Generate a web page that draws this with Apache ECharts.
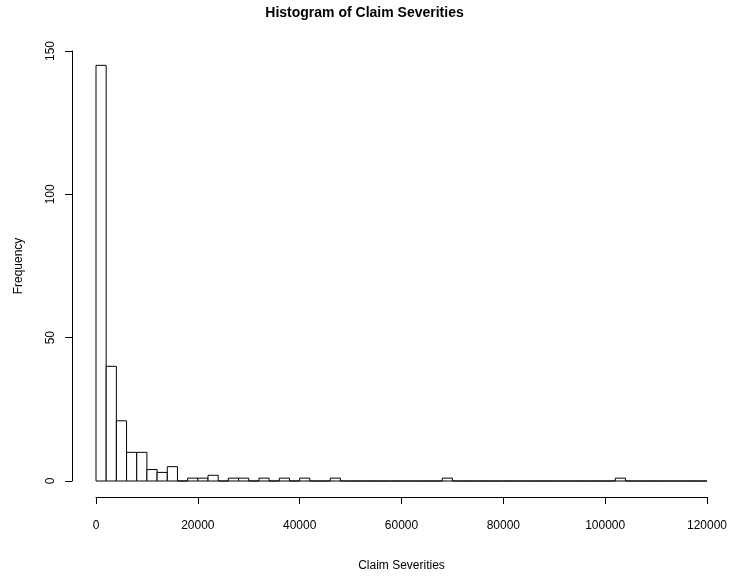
<!DOCTYPE html>
<html>
<head>
<meta charset="utf-8">
<script src="https://cdn.jsdelivr.net/npm/echarts@6/dist/echarts.min.js"></script>
<style>
  html, body { margin: 0; padding: 0; background: #fff; }
  #chart { width: 729px; height: 578px; }
</style>
</head>
<body>
<div id="chart"></div>
<script>
// histogram bins: width 2000, from 0 to 120000
const binWidth = 2000
const binStart = 0
const counts = [
  145, 40, 21, 10, 10, 4, 3, 5, 0, 1,
  1, 2, 0, 1, 1, 0, 1, 0, 1, 0,
  1, 0, 0, 1, 0, 0, 0, 0, 0, 0,
  0, 0, 0, 0, 1, 0, 0, 0, 0, 0,
  0, 0, 0, 0, 0, 0, 0, 0, 0, 0,
  0, 1, 0, 0, 0, 0, 0, 0, 0, 0
]
const xTicks = [0, 20000, 40000, 60000, 80000, 100000, 120000]
const yTicks = [0, 50, 100, 150]

const bars = counts.map((c, i) => [binStart + i * binWidth, binStart + (i + 1) * binWidth, c])

const font = 'Liberation Sans, Arial, sans-serif'
const chart = echarts.init(document.getElementById('chart'))

chart.setOption({
  animation: false,
  backgroundColor: '#fff',
  title: {
    text: 'Histogram of Claim Severities',
    left: 'center',
    top: 1,
    textStyle: { fontFamily: font, fontSize: 14, fontWeight: 'bold', color: '#000' }
  },
  grid: { left: 96, right: 22, top: 51, bottom: 97, outerBoundsMode: 'none' },
  xAxis: {
    type: 'value',
    min: xTicks[0],
    max: xTicks[xTicks.length - 1],
    interval: 20000,
    offset: 16,
    name: 'Claim Severities',
    nameLocation: 'middle',
    nameGap: 63,
    nameTextStyle: { fontFamily: font, fontSize: 12, color: '#000' },
    axisLine: { show: true, onZero: false, lineStyle: { color: '#000', width: 1 } },
    axisTick: { show: true, length: 7, lineStyle: { color: '#000' } },
    axisLabel: { fontFamily: font, fontSize: 12, color: '#000', margin: 23, formatter: v => String(v) },
    splitLine: { show: false }
  },
  yAxis: {
    type: 'value',
    min: yTicks[0],
    max: yTicks[yTicks.length - 1],
    interval: 50,
    offset: 24,
    name: 'Frequency',
    nameLocation: 'middle',
    nameGap: 47,
    nameRotate: 90,
    nameTextStyle: { fontFamily: font, fontSize: 12, color: '#000' },
    axisLine: { show: true, onZero: false, lineStyle: { color: '#000', width: 1 } },
    axisTick: { show: true, length: 7, lineStyle: { color: '#000' } },
    axisLabel: { fontFamily: font, fontSize: 12, color: '#000', rotate: 90, margin: 15, align: 'center', verticalAlign: 'bottom' },
    splitLine: { show: false }
  },
  series: [
    {
      type: 'custom',
      data: bars,
      clip: false,
      renderItem(params, api) {
        const p0 = api.coord([api.value(0), api.value(2)])
        const p1 = api.coord([api.value(1), 0])
        return {
          type: 'rect',
          shape: { x: p0[0], y: p0[1], width: p1[0] - p0[0], height: p1[1] - p0[1] },
          style: { fill: '#fff', stroke: '#000', lineWidth: 1 }
        }
      }
    }
  ]
})
</script>
</body>
</html>
